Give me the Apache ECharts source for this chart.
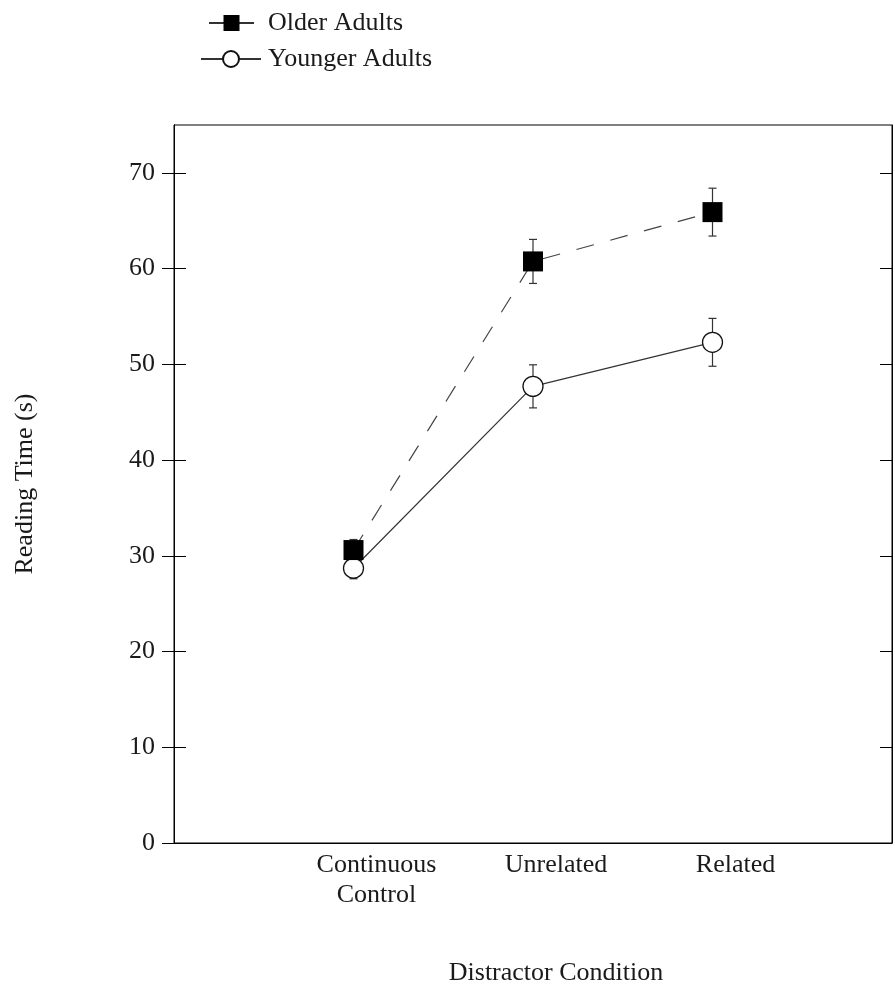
<!DOCTYPE html>
<html lang="en">
  <head>
    <meta charset="UTF-8" />
    <script src="https://cdn.jsdelivr.net/npm/echarts@6/dist/echarts.min.js"></script>
    <title>Reading time by distractor condition</title>
    <style>
      body { margin: 0; background: #fff; }
    </style>
  </head>
  <body>
    <div id="container" style="width: 895px; height: 990px;"></div>

    <script>
      // data
      const conditions = ["Continuous\nControl", "Unrelated", "Related"];
      const conditionX = [1, 2, 3];
      const olderMeans = [30.6, 60.75, 65.9];
      const olderErr = [1.1, 2.3, 2.5];
      const youngerMeans = [28.7, 47.7, 52.3];
      const youngerErr = [1.1, 2.25, 2.5];
      const yTicks = [0, 10, 20, 30, 40, 50, 60, 70];

      const font = "Liberation Serif";
      const ink = "#1a1a1a";

      const chart = echarts.init(document.getElementById("container"));

      function points(means) {
        return means.map((m, i) => [conditionX[i], m]);
      }
      function bars(means, errs) {
        return means.map((m, i) => [conditionX[i], m - errs[i], m + errs[i]]);
      }

      // vertical error bar with small caps
      function renderErr(params, api) {
        const x = api.value(0);
        const lo = api.coord([x, api.value(1)]);
        const hi = api.coord([x, api.value(2)]);
        const cap = 4;
        const style = { stroke: "#333", lineWidth: 1.2 };
        return {
          type: "group",
          children: [
            { type: "line", shape: { x1: lo[0], y1: lo[1], x2: hi[0], y2: hi[1] }, style },
            { type: "line", shape: { x1: lo[0] - cap, y1: lo[1], x2: lo[0] + cap, y2: lo[1] }, style },
            { type: "line", shape: { x1: hi[0] - cap, y1: hi[1], x2: hi[0] + cap, y2: hi[1] }, style },
          ],
        };
      }

      const yBase = {
        type: "value",
        min: 0,
        max: 75,
        splitLine: { show: false },
        axisLine: { show: true, lineStyle: { color: "#000", width: 1 } },
      };

      const option = {
        animation: false,
        backgroundColor: "#fff",
        textStyle: { fontFamily: font, color: ink },
        grid: {
          left: 174,
          right: 3,
          top: 125,
          bottom: 147,
          outerBoundsMode: "none",
          containLabel: false,
          show: true,
          borderColor: "#000",
          borderWidth: 1,
        },
        legend: [
          {
            left: 203,
            top: 5,
            itemWidth: 45,
            itemHeight: 20,
            textStyle: { fontFamily: font, fontSize: 26, color: ink, padding: [0, 0, 0, 9] },
            data: [{ name: "Older Adults", lineStyle: { type: "solid", color: "#333" } }],
          },
          {
            left: 195,
            top: 41,
            itemWidth: 60,
            itemHeight: 20,
            textStyle: { fontFamily: font, fontSize: 26, color: ink, padding: [0, 0, 0, 2] },
            data: [{ name: "Younger Adults" }],
          },
        ],
        xAxis: {
          type: "value",
          min: 0,
          max: 4,
          interval: 1,
          name: "Distractor Condition",
          nameLocation: "middle",
          nameGap: 117,
          nameTextStyle: { fontFamily: font, fontSize: 26, color: ink, padding: [0, 0, 0, 46] },
          axisLine: { show: true, onZero: false, lineStyle: { color: "#000", width: 1 } },
          axisTick: { show: false },
          splitLine: { show: false },
          axisLabel: {
            fontFamily: font,
            fontSize: 26,
            color: ink,
            lineHeight: 30,
            margin: 7,
            padding: [0, 0, 0, 46],
            formatter: (v) => conditions[conditionX.indexOf(v)] || "",
          },
        },
        yAxis: [
          Object.assign({}, yBase, {
            position: "left",
            name: "Reading Time (s)",
            nameLocation: "middle",
            nameGap: 136,
            nameTextStyle: { fontFamily: font, fontSize: 26, color: ink },
            axisTick: { show: true, inside: false, length: 12, customValues: yTicks, lineStyle: { color: "#000" } },
            axisLabel: { customValues: yTicks, fontFamily: font, fontSize: 26, color: ink, margin: 19 },
          }),
          Object.assign({}, yBase, {
            position: "left",
            axisTick: { show: true, inside: true, length: 12, customValues: yTicks, lineStyle: { color: "#000" } },
            axisLabel: { show: false },
          }),
          Object.assign({}, yBase, {
            position: "right",
            axisTick: { show: true, inside: true, length: 12, customValues: yTicks, lineStyle: { color: "#000" } },
            axisLabel: { show: false },
          }),
        ],
        series: [
          {
            type: "custom",
            name: "younger err",
            renderItem: renderErr,
            data: bars(youngerMeans, youngerErr),
            z: 1,
          },
          {
            type: "custom",
            name: "older err",
            renderItem: renderErr,
            data: bars(olderMeans, olderErr),
            z: 1,
          },
          {
            type: "line",
            name: "Younger Adults",
            data: points(youngerMeans),
            symbol: "circle",
            symbolSize: 20,
            itemStyle: { color: "#fff", borderColor: "#111", borderWidth: 1.3 },
            lineStyle: { color: "#333", width: 1.2, type: "solid" },
            z: 3,
          },
          {
            type: "line",
            name: "Older Adults",
            data: points(olderMeans),
            symbol: "rect",
            symbolSize: 20,
            itemStyle: { color: "#000", borderColor: "#000", borderWidth: 0 },
            lineStyle: { color: "#444", width: 1.2, type: [18, 17] },
            z: 4,
          },
        ],
      };

      chart.setOption(option);
    </script>
  </body>
</html>
